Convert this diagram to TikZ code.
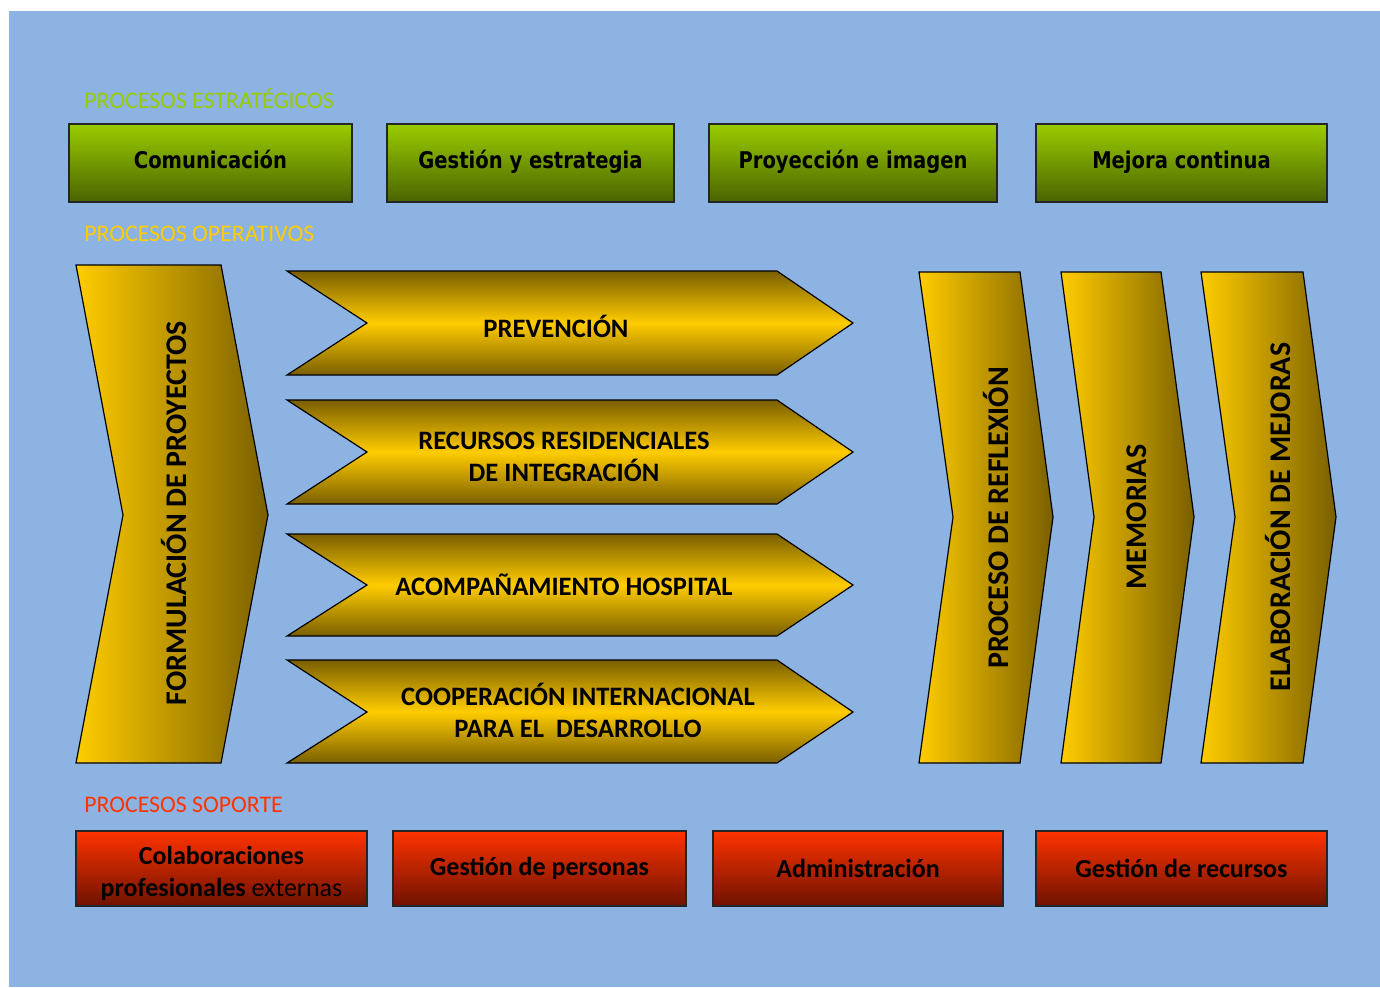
\documentclass[tikz,border=0pt]{standalone}
\usepackage{fontspec}
\setmainfont{Carlito}
\newfontfamily\boxfont[FakeStretch=0.85]{DejaVu Sans}
\usepackage{xcolor}

\definecolor{fondo}{HTML}{8DB3E2}
\definecolor{verdeC}{HTML}{99CC00}
\definecolor{verdeO}{HTML}{4A6300}
\definecolor{oroC}{HTML}{FFCC00}
\definecolor{oroO}{HTML}{7A5F00}
\definecolor{rojoC}{HTML}{FF3300}
\definecolor{rojoO}{HTML}{6E1200}

\tikzset{
  etiqueta/.style={anchor=west, inner sep=0pt, font=\fontsize{11.9}{14}\selectfont},
  estrategico/.style={draw=black!85, line width=0.7pt, top color=verdeC, bottom color=verdeO,
    minimum height=39pt, inner sep=0pt, text height=8.4pt, text depth=3.4pt,
    font=\boxfont\bfseries\fontsize{11.5}{14}\selectfont},
  soporte/.style={draw=black!85, line width=0.7pt, top color=rojoC, bottom color=rojoO,
    minimum height=37.5pt, inner sep=0pt, align=center, font=\bfseries\fontsize{13}{16}\selectfont},
  flecha/.style={draw=black, line width=0.6pt, top color=oroO, bottom color=oroO, middle color=oroC},
  galon/.style={draw=black, line width=0.6pt, left color=oroC, right color=oroO},
  textoop/.style={align=center, inner sep=0pt, font=\bfseries\fontsize{13.3}{16}\selectfont},
  textovert/.style={inner sep=0pt, rotate=90, font=\bfseries\fontsize{15}{18}\selectfont},
}

\begin{document}
\begin{tikzpicture}[x=0.5pt, y=-0.5pt]

\useasboundingbox (0,0) rectangle (1380,987);
\fill[white] (0,0) rectangle (1380,987);
\fill[fondo] (9,11) rectangle (1380,987);

% titulos
\node[etiqueta, text=verdeC] (tEstr) at (84,99) {PROCESOS ESTRATÉGICOS};
\node[etiqueta, text=oroC] (tOper) at (84,234) {PROCESOS OPERATIVOS};
\node[etiqueta, text=rojoC] (tSop) at (84,805) {PROCESOS SOPORTE};

% procesos estrategicos
\node[estrategico, minimum width=141.5pt] (e1) at (210.5,163) {Comunicación};
\node[estrategico, minimum width=143.5pt] (e2) at (530.5,163) {Gestión y estrategia};
\node[estrategico, minimum width=144pt] (e3) at (853,163) {Proyección e imagen};
\node[estrategico, minimum width=145.5pt] (e4) at (1181.5,163) {Mejora continua};

% procesos operativos
\shade[galon] (76,265) -- (221,265) -- (268,515) -- (221,763) -- (76,763) -- (123,515) -- cycle;
\node[textovert] (o0) at (174,513) {FORMULACIÓN DE PROYECTOS};

\shade[flecha] (287,271) -- (777,271) -- (853,323) -- (777,375) -- (287,375) -- (367,323) -- cycle;
\shade[flecha] (287,400) -- (777,400) -- (853,452) -- (777,504) -- (287,504) -- (367,452) -- cycle;
\shade[flecha] (287,534) -- (777,534) -- (853,585) -- (777,636) -- (287,636) -- (367,585) -- cycle;
\shade[flecha] (287,660) -- (777,660) -- (853,712) -- (777,763) -- (287,763) -- (367,712) -- cycle;

\node[textoop] (o1) at (556,326) {PREVENCIÓN};
\node[textoop] (o2) at (564,457) {RECURSOS RESIDENCIALES\\DE INTEGRACIÓN};
\node[textoop] (o3) at (564,585) {ACOMPAÑAMIENTO HOSPITAL};
\node[textoop] (o4) at (578,710) {COOPERACIÓN INTERNACIONAL\\PARA EL\ \ DESARROLLO};

\shade[galon] (919,272) -- (1020,272) -- (1053,517) -- (1020,763) -- (919,763) -- (953,517) -- cycle;
\shade[galon] (1061,272) -- (1161,272) -- (1194,517) -- (1161,763) -- (1061,763) -- (1094,517) -- cycle;
\shade[galon] (1201,272) -- (1303,272) -- (1336,517) -- (1303,763) -- (1201,763) -- (1235,517) -- cycle;

\node[textovert] (o5) at (996,518) {PROCESO DE REFLEXIÓN};
\node[textovert] (o6) at (1137,517) {MEMORIAS};
\node[textovert] (o7) at (1278,517) {ELABORACIÓN DE MEJORAS};

% procesos soporte
\node[soporte, minimum width=145.5pt] (s1) at (221.5,868.5)
  {\raisebox{-2.5pt}[19.25pt][12.75pt]{\begin{tabular}{@{}c@{}}Colaboraciones\\profesionales {\mdseries externas}\end{tabular}}};
\node[soporte, minimum width=146.5pt] (s2) at (539.5,868.5) {Gestión de personas};
\node[soporte, minimum width=145pt] (s3) at (858,868.5) {Administración};
\node[soporte, minimum width=145.5pt] (s4) at (1181.5,868.5) {Gestión de recursos};

\end{tikzpicture}
\end{document}
